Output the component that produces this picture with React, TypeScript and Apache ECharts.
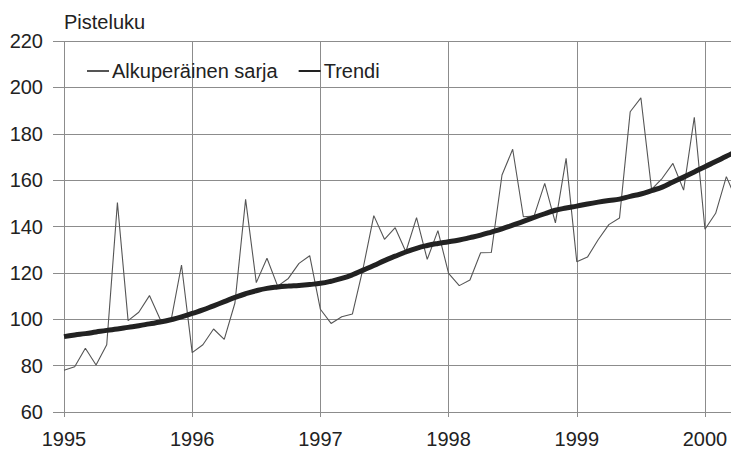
import React, { useEffect, useRef } from "react";
import * as echarts from "echarts";

const startYear = 1995;
const yearTicks = [1995, 1996, 1997, 1998, 1999, 2000];
const yTicks = [60, 80, 100, 120, 140, 160, 180, 200, 220];

// Monthly values, Jan 1995 .. Apr 2000
const original = [
  78, 79.5, 87.5, 80.3, 89, 150.3, 99.4, 103, 110.2, 100, 99, 123.4,
  85.6, 89, 95.8, 91.3, 107, 151.7, 115.8, 126.3, 114.3, 117.6, 124.1, 127.4,
  104.3, 98.2, 101.1, 102.3, 122, 144.7, 134.5, 139.5, 129.1, 143.8, 125.8, 138.2,
  119.8, 114.5, 116.9, 128.7, 128.8, 162.2, 173.3, 144.2, 144.5, 158.6, 141.6, 169.4,
  124.8, 126.8, 134.3, 140.8, 143.7, 189.5, 195.5, 156, 160.8, 167.2, 155.7, 187.1,
  138.8, 145.7, 161.5, 151,
];

const trend = [
  92.5, 93.2, 93.8, 94.5, 95.2, 95.8, 96.5, 97.2, 98.0, 98.8, 99.8, 101.0,
  102.5, 104.0, 105.8, 107.6, 109.4, 111.0, 112.3, 113.3, 113.9, 114.3, 114.6, 115.0,
  115.5, 116.4, 117.6, 119.2, 121.2, 123.2, 125.3, 127.2, 129.0, 130.6, 131.8, 132.7,
  133.4, 134.2, 135.2, 136.3, 137.6, 139.0, 140.6, 142.2, 143.9, 145.5, 147.0, 148.0,
  148.8, 149.7, 150.5, 151.2, 151.8, 153.0, 154.0, 155.5, 157.0, 159.2, 161.3, 163.5,
  165.8, 168.0, 170.3, 172.5,
];

const seriesNames = ["Alkuperäinen sarja", "Trendi"];
const yTitle = "Pisteluku";

const toPairs = (vals: number[]) =>
  vals.map((v, i) => [startYear + i / 12, v]);

export default function App() {
  const ref = useRef<HTMLDivElement>(null);
  useEffect(() => {
    if (!ref.current) return;
    const chart = echarts.init(ref.current, null, { renderer: "svg" });
    const font = "'Liberation Sans', Arial, sans-serif";
    const grid = "#8c8c8c";
    chart.setOption({
      animation: false,
      backgroundColor: "#ffffff",
      textStyle: { fontFamily: font },
      title: {
        text: yTitle,
        left: 64,
        top: 12,
        padding: 0,
        textStyle: { fontFamily: font, fontSize: 20, fontWeight: "normal", color: "#222" },
      },
      legend: {
        left: 86,
        top: 61,
        padding: 0,
        itemWidth: 22,
        itemHeight: 14,
        itemGap: 20,
        data: seriesNames,
        itemStyle: { opacity: 0 },
        textStyle: { fontFamily: font, fontSize: 20, color: "#222", padding: [0, 0, 0, -2] },
      },
      grid: { left: 64, right: 0, top: 41, bottom: 41, containLabel: false },
      xAxis: {
        type: "value",
        min: 1995,
        max: 2000.203,
        interval: 1,
        axisLine: { show: true, lineStyle: { color: grid, width: 1 } },
        axisTick: { show: true, length: 5, lineStyle: { color: grid } },
        splitLine: { show: true, lineStyle: { color: grid, width: 1 } },
        axisLabel: {
          margin: 17,
          fontSize: 20,
          color: "#222",
          fontFamily: font,
          showMaxLabel: false,
          formatter: (v: number) => (yearTicks.includes(v) ? String(v) : ""),
        },
      },
      yAxis: {
        type: "value",
        min: yTicks[0],
        max: yTicks[yTicks.length - 1],
        interval: 20,
        axisLine: { show: false },
        axisTick: { show: true, length: 11, lineStyle: { color: grid } },
        splitLine: { show: true, lineStyle: { color: grid, width: 1 } },
        axisLabel: { margin: 21, fontSize: 20, color: "#222", fontFamily: font },
      },
      series: [
        {
          name: seriesNames[0],
          type: "line",
          data: toPairs(original),
          symbol: "none",
          lineStyle: { color: "#555", width: 1.1 },
          itemStyle: { color: "#555" },
          clip: true,
          z: 3,
        },
        {
          name: seriesNames[1],
          type: "line",
          data: toPairs(trend),
          symbol: "none",
          smooth: true,
          lineStyle: { color: "#222", width: 5 },
          itemStyle: { color: "#222" },
          clip: true,
          z: 4,
        },
      ],
    });
    return () => chart.dispose();
  }, []);
  return (
    <div
      ref={ref}
      style={{ position: "fixed", left: 0, top: 0, width: 731, height: 453 }}
    />
  );
}
